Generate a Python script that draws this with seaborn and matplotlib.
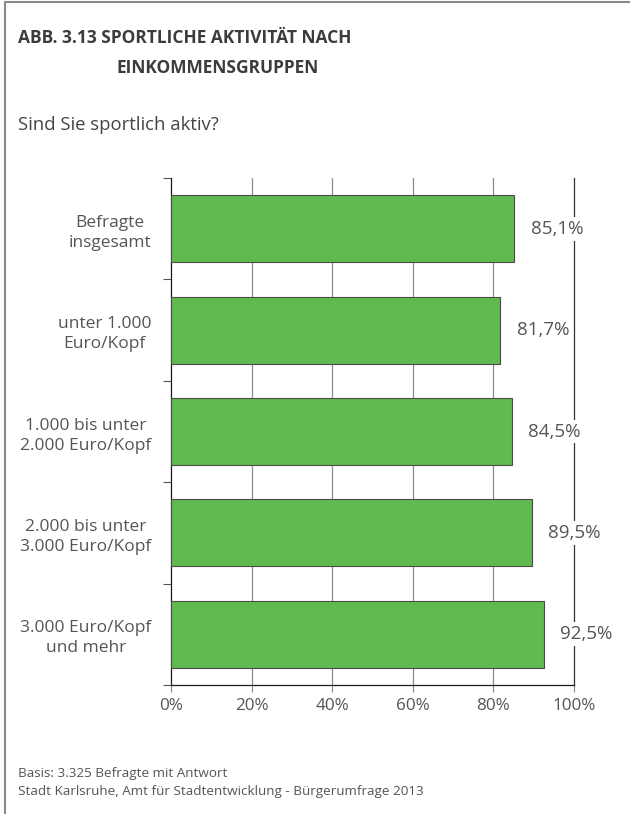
import matplotlib
matplotlib.use("Agg")
import matplotlib.pyplot as plt
from matplotlib.lines import Line2D
import seaborn as sns
import pandas as pd
import numpy as np

categories = ["Befragte\ninsgesamt", "unter 1.000\nEuro/Kopf", "1.000 bis unter\n2.000 Euro/Kopf",
              "2.000 bis unter\n3.000 Euro/Kopf", "3.000 Euro/Kopf\nund mehr"]
values = [85.1, 81.7, 84.5, 89.5, 92.5]
value_labels = ["85,1%", "81,7%", "84,5%", "89,5%", "92,5%"]
x_ticks = [0, 20, 40, 60, 80, 100]
x_tick_labels = ["0%", "20%", "40%", "60%", "80%", "100%"]

sns.set_theme(style="white")
plt.rcParams['font.family'] = ['Open Sans', 'DejaVu Sans']

W, H = 630, 814
fig = plt.figure(figsize=(W / 100, H / 100), dpi=100)

def fx(px):
    return px / W

def fy(py):
    return 1 - py / H

ax = fig.add_axes([fx(171), fy(685), fx(574) - fx(171), (685 - 178) / H])

df = pd.DataFrame({"cat": categories, "val": values})
sns.barplot(data=df, y="cat", x="val", orient="h", color="#62b94f", saturation=1,
            edgecolor="#4a4a4a", linewidth=0.8, width=0.66, ax=ax, zorder=3)

ax.set_xlim(0, 100)
ax.set_ylim(4.5, -0.5)
ax.set_xlabel("")
ax.set_ylabel("")

for x in [20, 40, 60, 80]:
    ax.axvline(x, color="#8c8c8c", linewidth=0.9, zorder=1)

ax.spines["top"].set_visible(False)
ax.spines["left"].set_color("#1a1a1a")
ax.spines["bottom"].set_color("#1a1a1a")
ax.spines["right"].set_color("#333333")
for s in ["left", "bottom", "right"]:
    ax.spines[s].set_linewidth(0.9)

ax.set_xticks(x_ticks)
ax.set_xticklabels(x_tick_labels, fontsize=12.3, color="#555555")
ax.tick_params(axis="x", direction="out", length=5, width=0.8, color="#888888", pad=4, bottom=True)

ax.set_yticks(range(len(categories)))
ax.set_yticklabels(categories, fontsize=12.5, color="#555555", multialignment="center",
                   linespacing=1.35)
ax.tick_params(axis="y", which="major", length=0, pad=14)
ax.set_yticks(np.arange(-0.5, len(categories), 1.0), minor=True)
ax.tick_params(axis="y", which="minor", direction="out", length=6, width=0.8, color="#555555", left=True)

for i, (v, lab) in enumerate(zip(values, value_labels)):
    ax.annotate(lab, xy=(v, i), xytext=(12, 0), textcoords="offset points",
                ha="left", va="center", fontsize=13.5, color="#555555",
                bbox=dict(facecolor="white", edgecolor="none", pad=2), zorder=5,
                annotation_clip=False)

# frame lines (left and top)
fig.add_artist(Line2D([fx(5), fx(5)], [fy(2), 0], color="#8a8a8a", linewidth=1.5, transform=fig.transFigure))
fig.add_artist(Line2D([fx(5), 1], [fy(2), fy(2)], color="#8a8a8a", linewidth=1.5, transform=fig.transFigure))

title_kw = dict(fontsize=12.5, fontweight="bold", color="#3c3c3c")
fig.text(fx(18), fy(38), "ABB. 3.13 SPORTLICHE AKTIVITÄT NACH", ha="left", va="center", **title_kw)
fig.text(fx(117), fy(68), "EINKOMMENSGRUPPEN", ha="left", va="center", **title_kw)
fig.text(fx(18), fy(125), "Sind Sie sportlich aktiv?", ha="left", va="center", fontsize=13.3, color="#444444")

fig.text(fx(18), fy(773), "Basis: 3.325 Befragte mit Antwort", ha="left", va="center", fontsize=9.7, color="#555555")
fig.text(fx(18), fy(791), "Stadt Karlsruhe, Amt für Stadtentwicklung - Bürgerumfrage 2013", ha="left", va="center",
         fontsize=9.7, color="#555555")

fig.savefig("out.png", dpi=100)
